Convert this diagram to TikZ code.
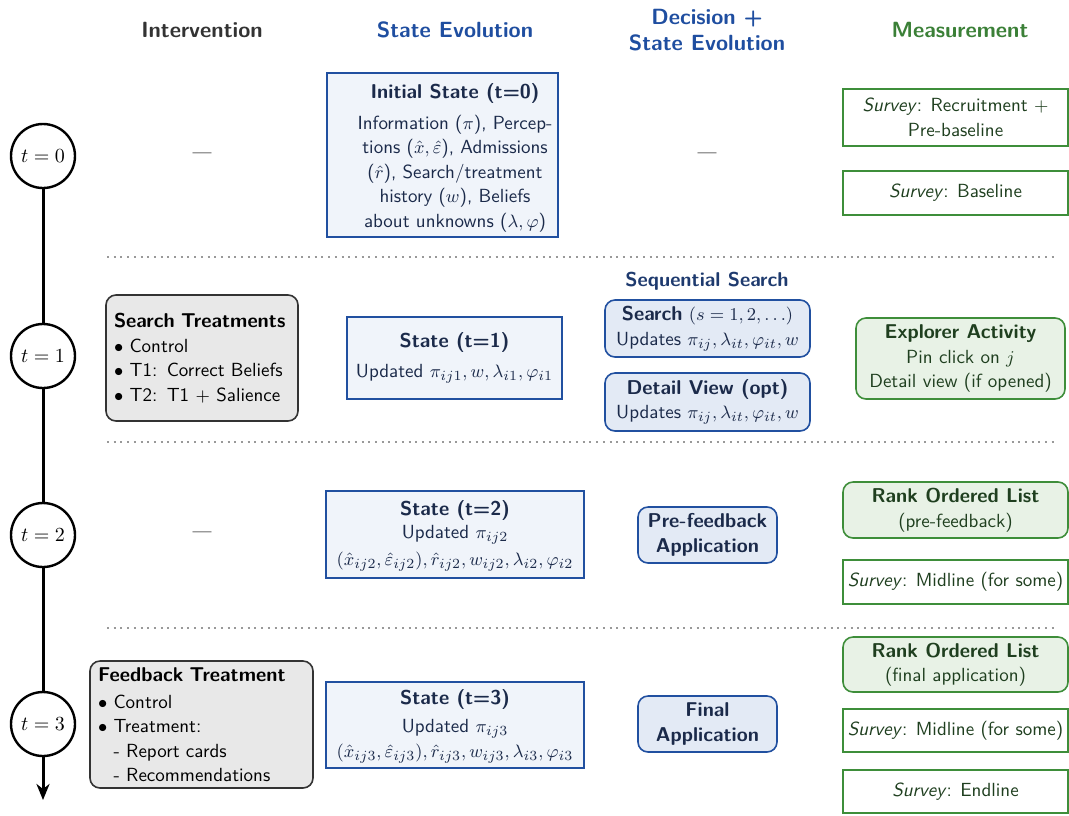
\documentclass[tikz,border=0pt]{standalone}
\usetikzlibrary{arrows.meta}
\definecolor{hdrblue}{HTML}{1F4EA0}
\definecolor{boxblue}{HTML}{2150A0}
\definecolor{navy}{HTML}{1B2A4A}
\definecolor{seqblue}{HTML}{1E3A6E}
\definecolor{statefill}{HTML}{F0F4FA}
\definecolor{decfill}{HTML}{E3EAF5}
\definecolor{hdrgreen}{HTML}{3B8037}
\definecolor{boxgreen}{HTML}{3E8E3A}
\definecolor{greenfill}{HTML}{E8F2E6}
\definecolor{greentext}{HTML}{1F3F1F}
\definecolor{grayfill}{HTML}{E8E8E8}
\definecolor{hdrgray}{HTML}{333333}
\newcommand{\boxttl}[1]{{\fontsize{10}{12.25}\selectfont\bfseries #1}}
\begin{document}
\begin{tikzpicture}[x=0.5pt,y=-0.5pt,
  body/.style={font=\fontsize{9.5}{12.25}\selectfont\sffamily, align=center, inner sep=0pt},
  hdr/.style={font=\fontsize{11}{13}\selectfont\sffamily\bfseries, align=center, inner sep=0pt},
  statebox/.style={body, draw=boxblue, line width=1.25pt, fill=statefill, text=navy},
  decbox/.style={body, draw=boxblue, line width=0.8pt, fill=decfill, rounded corners=5pt, text=navy},
  survbox/.style={body, draw=boxgreen, line width=0.8pt, fill=white, text=greentext, minimum width=112.5pt},
  measbox/.style={body, draw=boxgreen, line width=0.8pt, fill=greenfill, rounded corners=5pt, text=greentext},
  treatbox/.style={body, align=left, inner xsep=4pt, draw=black!80, line width=0.8pt, fill=grayfill, rounded corners=5pt, text=black},
  tcirc/.style={circle, draw=black, line width=1.2pt, fill=white, minimum size=32pt, inner sep=0pt, font=\fontsize{10}{12}\selectfont},
  sep/.style={draw=black!40, line width=1pt, dash pattern=on 1pt off 2.35pt},
  tline/.style={draw=black, line width=1.5pt},
  nodash/.style={body, text=black!50}
]
\useasboundingbox (0,0) rectangle (1069,815);

% headers
\node[hdr, text=hdrgray] (h1) at (202,30) {Intervention};
\node[hdr, text=hdrblue] (h2) at (455,30) {State Evolution};
\node[hdr, text=hdrblue] (h3) at (707,30) {Decision +\\State Evolution};
\node[hdr, text=hdrgreen] (h4) at (960,30) {Measurement};

% separators
\coordinate (s1a) at (107,257); \coordinate (s1b) at (1057,257);
\coordinate (s2a) at (107,442); \coordinate (s2b) at (1057,442);
\coordinate (s3a) at (107,628); \coordinate (s3b) at (1057,628);
\draw[sep] (s1a) -- (s1b);
\draw[sep] (s2a) -- (s2b);
\draw[sep] (s3a) -- (s3b);

% timeline
\node[tcirc] (t0) at (43,156) {$t=0$};
\node[tcirc] (t1) at (43,356) {$t=1$};
\node[tcirc] (t2) at (43,535) {$t=2$};
\node[tcirc] (t3) at (43,724) {$t=3$};
\coordinate (tend) at (43,800);
\draw[tline] (t0) -- (t1);
\draw[tline] (t1) -- (t2);
\draw[tline] (t2) -- (t3);
\draw[tline, -{Stealth[length=8pt,width=6.5pt,inset=2.5pt]}] (t3) -- (tend);

% row 0
\node[nodash] (d0a) at (202,156) {---};
\node[nodash] (d0b) at (707,156) {---};
\node[statebox, minimum width=115.5pt, minimum height=82pt] (s0) at (442.5,155) {};
\node[body, text=navy] (s0t) at (455,157.5)
 {\boxttl{Initial State (t=0)}\\[3.25pt]
  Information ($\pi$), Percep-\\
  tions ($\hat{x},\hat{\varepsilon}$), Admissions\\
  ($\hat{r}$), Search/treatment\\
  history ($w$), Beliefs\\
  about unknowns ($\lambda,\varphi$)};
\node[survbox, minimum height=28.5pt] (m0a) at (955.5,117.5)
 {\textit{Survey}: Recruitment $+$\\Pre-baseline};
\node[survbox, minimum height=22pt] (m0b) at (955.5,193)
 {\textit{Survey}: Baseline};

% row 1
\node[treatbox, text width=88pt, minimum height=63pt] (i1) at (202,358)
 {\boxttl{Search Treatments}\\
  $\bullet$ Control\\
  $\bullet$ T1:  Correct Beliefs\\
  $\bullet$ T2:  T1 $+$ Salience};
\node[statebox, minimum width=107.5pt, minimum height=41pt] (s1) at (454.5,358)
 {\boxttl{State (t=1)}\\[2.75pt]
  Updated $\pi_{ij1},w,\lambda_{i1},\varphi_{i1}$};
\node[body, font=\fontsize{10}{12}\selectfont\sffamily\bfseries, text=seqblue] (seq) at (707,281) {Sequential Search};
\node[decbox, minimum width=102.5pt, minimum height=28.5pt] (srch) at (707.5,328.5)
 {\boxttl{Search} $(s=1,2,\ldots)$\\
  Updates $\pi_{ij},\lambda_{it},\varphi_{it},w$};
\node[decbox, minimum width=102.5pt, minimum height=29pt] (dv) at (707.5,402)
 {\boxttl{Detail View (opt)}\\
  Updates $\pi_{ij},\lambda_{it},\varphi_{it},w$};
\node[measbox, minimum width=104.5pt, minimum height=40.5pt] (m1) at (960.5,358.5)
 {\boxttl{Explorer Activity}\\
  Pin click on $j$\\
  Detail view (if opened)};

% row 2
\node[nodash] (d2) at (202,535) {---};
\node[statebox, minimum width=129pt, minimum height=43.5pt] (s2) at (455,534.5) {};
\node[body, text=navy] (s2t) at (455,536)
 {\boxttl{State (t=2)}\\[-1pt]
  Updated $\pi_{ij2}$\\[1.5pt]
  $(\hat{x}_{ij2},\hat{\varepsilon}_{ij2}),\hat{r}_{ij2},w_{ij2},\lambda_{i2},\varphi_{i2}$};
\node[decbox, minimum width=69.5pt, minimum height=28pt] (a2) at (707.5,535)
 {\boxttl{Pre-feedback}\\\boxttl{Application}};
\node[measbox, minimum width=112.5pt, minimum height=28pt] (m2a) at (955.5,510)
 {\boxttl{Rank Ordered List}\\(pre-feedback)};
\node[survbox, minimum height=22pt] (m2b) at (955.5,582)
 {\textit{Survey}: Midline (for some)};

% row 3
\node[treatbox, text width=103.5pt, minimum height=63.5pt] (i3) at (201.5,724.5)
 {\boxttl{Feedback Treatment}\\[1.25pt]
  $\bullet$ Control\\
  $\bullet$ Treatment:\\
  \phantom{$\bullet$} - Report cards\\
  \phantom{$\bullet$} - Recommendations};
\node[statebox, minimum width=129pt, minimum height=43pt] (s3) at (455,725) {};
\node[body, text=navy] (s3t) at (455,726.5)
 {\boxttl{State (t=3)}\\[1.5pt]
  Updated $\pi_{ij3}$\\[0.5pt]
  $(\hat{x}_{ij3},\hat{\varepsilon}_{ij3}),\hat{r}_{ij3},w_{ij3},\lambda_{i3},\varphi_{i3}$};
\node[decbox, minimum width=69.5pt, minimum height=28pt] (a3) at (707.5,724)
 {\boxttl{Final}\\\boxttl{Application}};
\node[measbox, minimum width=112.5pt, minimum height=27.5pt] (m3a) at (955.5,664.5)
 {\boxttl{Rank Ordered List}\\(final application)};
\node[survbox, minimum height=21.5pt] (m3b) at (955.5,730.5)
 {\textit{Survey}: Midline (for some)};
\node[survbox, minimum height=21.5pt] (m3c) at (955.5,791.5)
 {\textit{Survey}: Endline};
\end{tikzpicture}
\end{document}
